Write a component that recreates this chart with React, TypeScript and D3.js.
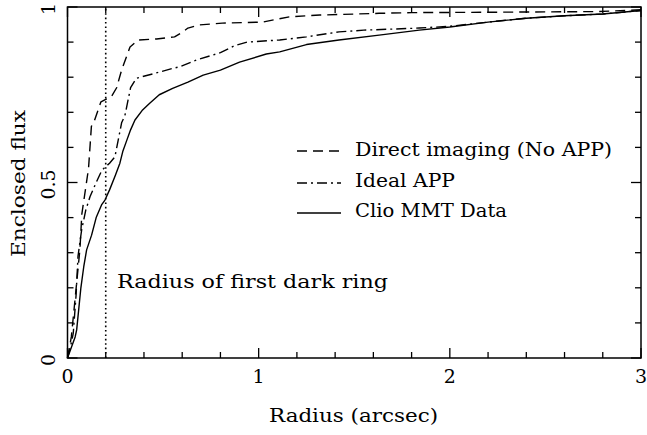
import React from "react";
import * as d3 from "d3";

const directImaging: [number, number][] = [
  [0, 0], [0.02, 0.06], [0.04, 0.17], [0.065, 0.31], [0.075, 0.41], [0.11, 0.54],
  [0.125, 0.66], [0.14, 0.675], [0.175, 0.73], [0.205, 0.738], [0.23, 0.745],
  [0.257, 0.77], [0.283, 0.82], [0.327, 0.886], [0.37, 0.906], [0.466, 0.909],
  [0.56, 0.915], [0.6, 0.928], [0.63, 0.94], [0.69, 0.949], [0.81, 0.954],
  [1.02, 0.957], [1.16, 0.972], [1.32, 0.977], [1.63, 0.982], [1.8, 0.984],
  [2.2, 0.985], [2.5, 0.986], [2.78, 0.987], [3.0, 0.992],
];

const idealAPP: [number, number][] = [
  [0, 0], [0.015, 0.03], [0.03, 0.07], [0.045, 0.18], [0.055, 0.29], [0.074, 0.365],
  [0.095, 0.42], [0.118, 0.46], [0.15, 0.5], [0.18, 0.535], [0.22, 0.555],
  [0.248, 0.573], [0.265, 0.62], [0.283, 0.67], [0.3, 0.69], [0.33, 0.77],
  [0.36, 0.797], [0.45, 0.81], [0.55, 0.825], [0.59, 0.83], [0.675, 0.849],
  [0.8, 0.87], [0.875, 0.89], [0.94, 0.9], [1.11, 0.906], [1.25, 0.915],
  [1.42, 0.929], [1.55, 0.934], [1.84, 0.94], [2.0, 0.945], [2.2, 0.957],
  [2.4, 0.968], [2.6, 0.975], [2.8, 0.98], [3.0, 0.99],
];

const clioData: [number, number][] = [
  [0, 0], [0.02, 0.03], [0.04, 0.06], [0.048, 0.08], [0.07, 0.2], [0.085, 0.26],
  [0.1, 0.308], [0.126, 0.35], [0.15, 0.4], [0.178, 0.436], [0.196, 0.45],
  [0.22, 0.479], [0.25, 0.52], [0.274, 0.555], [0.29, 0.59], [0.31, 0.62],
  [0.33, 0.65], [0.353, 0.678], [0.39, 0.705], [0.43, 0.726], [0.48, 0.75],
  [0.55, 0.768], [0.63, 0.786], [0.71, 0.806], [0.8, 0.82], [0.9, 0.843],
  [1.04, 0.866], [1.11, 0.872], [1.25, 0.893], [1.42, 0.906], [1.63, 0.92],
  [1.84, 0.934], [2.0, 0.943], [2.2, 0.957], [2.4, 0.968], [2.6, 0.975],
  [2.8, 0.98], [3.0, 0.99],
];

const xMajorTicks = [0, 1, 2, 3];
const xTickLabels = ["0", "1", "2", "3"];
const yMajorTicks = [0, 0.5, 1];
const yTickLabels = ["0", "0.5", "1"];
const darkRingRadius = 0.2;

const seriesNames = ["Direct imaging (No APP)", "Ideal APP", "Clio MMT Data"];

const FONT = "'DejaVu Serif', serif";

export default function App() {
  const W = 647, H = 435;
  const left = 67.5, right = 641, top = 7, bottom = 358;
  const x = d3.scaleLinear().domain([0, 3]).range([left, right]);
  const y = d3.scaleLinear().domain([0, 1]).range([bottom, top]);
  const line = d3.line<[number, number]>().x((d) => x(d[0])).y((d) => y(d[1]));

  const xMinor = d3.range(0, 3.0001, 0.2).filter((v) => Math.abs(v - Math.round(v)) > 1e-6);
  const yMinor = d3.range(0, 1.0001, 0.1).filter((v) => Math.abs(v * 2 - Math.round(v * 2)) > 1e-6);
  const MAJ = 10, MIN = 6;
  const sw = 1.4;

  const dashStyles = ["10 6", "10 4 2 4", ""];
  const series = [directImaging, idealAPP, clioData];
  const legendY = [151, 183, 213];
  const legendTextY = [156, 187, 217];
  const legendTextLen = [257, 100, 152];
  const LA = "spacingAndGlyphs";

  return (
    <svg width={W} height={H} style={{ position: "absolute", left: 0, top: 0, background: "#fff" }}
      fontFamily={FONT}>
      <rect x={0} y={0} width={W} height={H} fill="#fff" />
      {series.map((s, i) => (
        <path key={i} d={line(s) || ""} fill="none" stroke="#000" strokeWidth={sw}
          strokeDasharray={dashStyles[i] || undefined} strokeLinejoin="round" />
      ))}
      <line x1={x(darkRingRadius)} x2={x(darkRingRadius)} y1={y(0)} y2={y(1)} stroke="#000"
        strokeWidth={1.6} strokeDasharray="1.6 2.8" />
      <rect x={left} y={top} width={right - left} height={bottom - top} fill="none" stroke="#000" strokeWidth={1.5} />
      {xMajorTicks.map((v) => (
        <g key={"xm" + v}>
          <line x1={x(v)} x2={x(v)} y1={bottom} y2={bottom - MAJ} stroke="#000" strokeWidth={1.3} />
          <line x1={x(v)} x2={x(v)} y1={top} y2={top + MAJ} stroke="#000" strokeWidth={1.3} />
        </g>
      ))}
      {xMinor.map((v, i) => (
        <g key={"xn" + i}>
          <line x1={x(v)} x2={x(v)} y1={bottom} y2={bottom - MIN} stroke="#000" strokeWidth={1.3} />
          <line x1={x(v)} x2={x(v)} y1={top} y2={top + MIN} stroke="#000" strokeWidth={1.3} />
        </g>
      ))}
      {yMajorTicks.map((v) => (
        <g key={"ym" + v}>
          <line x1={left} x2={left + MAJ} y1={y(v)} y2={y(v)} stroke="#000" strokeWidth={1.3} />
          <line x1={right} x2={right - MAJ} y1={y(v)} y2={y(v)} stroke="#000" strokeWidth={1.3} />
        </g>
      ))}
      {yMinor.map((v, i) => (
        <g key={"yn" + i}>
          <line x1={left} x2={left + MIN} y1={y(v)} y2={y(v)} stroke="#000" strokeWidth={1.3} />
          <line x1={right} x2={right - MIN} y1={y(v)} y2={y(v)} stroke="#000" strokeWidth={1.3} />
        </g>
      ))}
      {xMajorTicks.map((v, i) => (
        <text key={"xl" + v} x={x(v)} y={383} fontSize={19} textAnchor="middle">{xTickLabels[i]}</text>
      ))}
      {yMajorTicks.map((v, i) => (
        <text key={"yl" + v} transform={`translate(55,${y(v) + 2}) rotate(-90)`} fontSize={19}
          textAnchor="middle">{yTickLabels[i]}</text>
      ))}
      <text x={269} y={422} fontSize={18.5} textLength={169} lengthAdjust={LA}>
        Radius (arcsec)
      </text>
      <text transform={`translate(25,257) rotate(-90)`} fontSize={18.5}
        textLength={147} lengthAdjust={LA}>Enclosed flux</text>
      <text x={117} y={288} fontSize={18.5} textLength={271} lengthAdjust={LA}>Radius of first dark ring</text>
      {seriesNames.map((name, i) => (
        <g key={"lg" + i}>
          <line x1={297} x2={341} y1={legendY[i]} y2={legendY[i]} stroke="#000" strokeWidth={sw}
            strokeDasharray={dashStyles[i] || undefined} />
          <text x={355} y={legendTextY[i]} fontSize={18.5} textLength={legendTextLen[i]} lengthAdjust={LA}>{name}</text>
        </g>
      ))}
    </svg>
  );
}
